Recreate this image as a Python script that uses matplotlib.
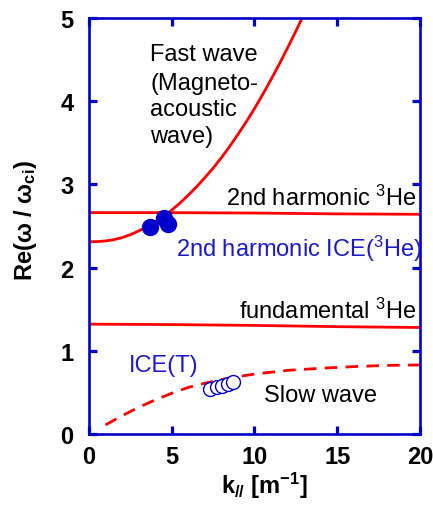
import matplotlib
matplotlib.use("Agg")
import matplotlib.pyplot as plt

plt.rcParams['font.family'] = ['Liberation Sans', 'DejaVu Sans']
plt.rcParams['mathtext.fontset'] = 'custom'
plt.rcParams['mathtext.rm'] = 'Liberation Sans'
plt.rcParams['mathtext.it'] = 'Liberation Sans:italic'
plt.rcParams['mathtext.bf'] = 'Liberation Sans:bold'

# Fast wave dispersion
fast_k = [0, 0.5, 1, 1.5, 2, 2.5, 3, 3.5, 4, 4.5, 5, 5.5, 6, 6.5, 7, 7.5, 8, 8.5,
          9, 9.5, 10, 10.5, 11, 11.5, 12, 12.5, 13]
fast_w = [2.31, 2.312, 2.32, 2.335, 2.36, 2.395, 2.44, 2.49, 2.55, 2.615, 2.69, 2.775,
          2.87, 2.97, 3.08, 3.195, 3.32, 3.455, 3.60, 3.75, 3.91, 4.08, 4.26, 4.445,
          4.64, 4.84, 5.05]

# Slow wave dispersion
slow_k = [1, 2, 3, 4, 5, 6, 7, 8, 9, 10, 12, 14, 16, 18, 20]
slow_w = [0.11, 0.22, 0.32, 0.41, 0.49, 0.56, 0.61, 0.655, 0.69, 0.72, 0.765, 0.79, 0.81, 0.825, 0.83]

# Cyclotron harmonic lines
harm_k = [0, 5, 10, 15, 20]
harm2_w = [2.66, 2.66, 2.655, 2.645, 2.64]
fund_w = [1.32, 1.315, 1.305, 1.29, 1.28]

# ICE observations
ice3he_k = [3.69, 4.53, 4.77]
ice3he_w = [2.49, 2.60, 2.52]
iceT_k = [7.31, 7.73, 8.04, 8.40, 8.70]
iceT_w = [0.54, 0.565, 0.58, 0.60, 0.625]

blue = '#0000cc'
tblue = '#1a1acc'
red = '#ff0000'

fig = plt.figure(figsize=(4.33, 5.10), dpi=100)
ax = fig.add_axes([0.2055, 0.147, 0.7645, 0.816])

ax.plot(fast_k, fast_w, color=red, lw=2.0)
ax.plot(harm_k, harm2_w, color=red, lw=2.0)
ax.plot(harm_k, fund_w, color=red, lw=2.0)
ax.plot(slow_k, slow_w, color=red, lw=2.0, dashes=(4.5, 3))

ax.plot(ice3he_k, ice3he_w, 'o', ms=11.5, color=blue, mec=blue)
ax.plot(iceT_k, iceT_w, 'o', ms=10, mfc='white', mec=blue, mew=1.0)

ax.set_xlim(0, 20)
ax.set_ylim(0, 5)
ax.set_xticks([0, 5, 10, 15, 20])
ax.set_yticks([0, 1, 2, 3, 4, 5])

for s in ax.spines.values():
    s.set_color(blue)
    s.set_linewidth(1.9)
ax.tick_params(direction='in', length=6, width=2.3, color=blue,
               top=True, right=True, labelsize=17)
ax.tick_params(axis='y', pad=11)
ax.tick_params(axis='x', pad=8)
for lab in ax.get_xticklabels() + ax.get_yticklabels():
    lab.set_fontweight('bold')

ax.set_xlabel(r"k$_{\mathbf{//}}$ [m$^{\mathbf{-1}}$]", fontsize=17, fontweight='bold')
ax.set_ylabel(r"Re(ω / ω$_{\mathbf{ci}}$)", fontsize=17, fontweight='bold')
ax.xaxis.set_label_coords(0.53, -0.085)
ax.yaxis.set_label_coords(-0.152, 0.515)

fs = 17
fast_lines = ["Fast wave", "(Magneto-", "acoustic", "wave)"]
fast_y = [4.49, 4.15, 3.83, 3.51]
for t, y in zip(fast_lines, fast_y):
    ax.text(3.69, y, t, fontsize=fs, color='black', ha='left', va='baseline')
ax.text(19.8, 2.75, r"2nd harmonic $^{3}$He", fontsize=fs, color='black', ha='right', va='baseline')
ax.text(5.25, 2.14, r"2nd harmonic ICE($^{3}$He)", fontsize=fs, color=tblue, ha='left', va='baseline')
ax.text(19.8, 1.40, r"fundamental $^{3}$He", fontsize=fs, color='black', ha='right', va='baseline')
ax.text(2.43, 0.76, "ICE(T)", fontsize=fs, color=tblue, ha='left', va='baseline')
ax.text(10.6, 0.40, "Slow wave", fontsize=fs, color='black', ha='left', va='baseline')

fig.savefig("out.png", dpi=100)
